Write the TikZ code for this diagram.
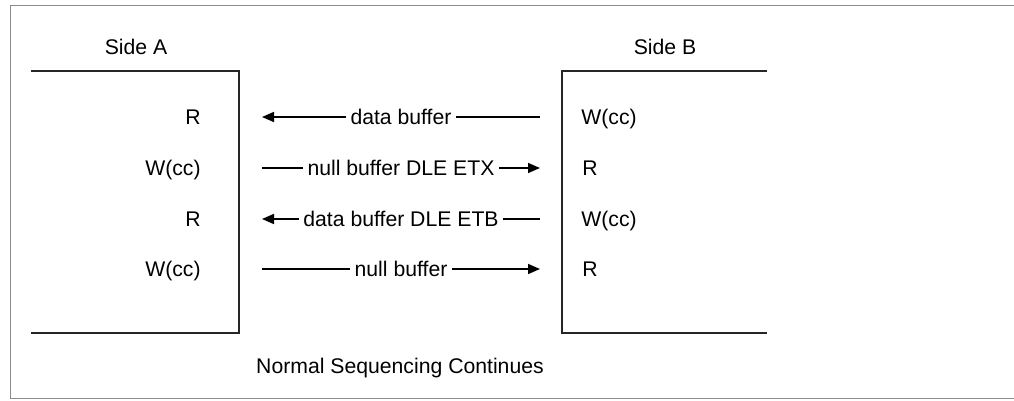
\documentclass[tikz,border=0pt]{standalone}
\usepackage{fontspec}
\setmainfont{Liberation Sans}
\usetikzlibrary{arrows.meta}

\begin{document}
\begin{tikzpicture}[
  x=0.5pt, y=-0.5pt,
  font=\fontsize{10.6}{12}\selectfont,
  frame/.style={draw=black!45, line width=0.5pt},
  side/.style={draw=black!85, line width=0.8pt},
  lbl/.style={inner sep=0pt, anchor=base},
  msg/.style={fill=white, inner sep=2.2pt},
  flow/.style={-{Triangle[length=6pt,width=5pt]}, line width=0.8pt}
]
\useasboundingbox (0,0) rectangle (1014,401);
\draw[frame] (1014,6) -- (10,6) -- (10,399) -- (1014,399);
\draw[side] (31,71) -- (239,71) -- (239,333) -- (31,333);
\draw[side] (767,71) -- (562,71) -- (562,333) -- (767,333);
\node[lbl] (sideA) at (136,55) {Side A};
\node[lbl] (sideB) at (665,55) {Side B};
% side A states
\node[lbl, anchor=base east] (a1) at (201,125) {R};
\node[lbl, anchor=base east] (a2) at (201,176) {W(cc)};
\node[lbl, anchor=base east] (a3) at (201,227) {R};
\node[lbl, anchor=base east] (a4) at (201,277) {W(cc)};
% side B states
\node[lbl, anchor=base west] (b1) at (581,125) {W(cc)};
\node[lbl, anchor=base west] (b2) at (582,176) {R};
\node[lbl, anchor=base west] (b3) at (581,227) {W(cc)};
\node[lbl, anchor=base west] (b4) at (582,277) {R};
% message ends
\coordinate (l1) at (262,117); \coordinate (r1) at (540,117);
\coordinate (l2) at (262,168); \coordinate (r2) at (540,168);
\coordinate (l3) at (262,219); \coordinate (r3) at (540,219);
\coordinate (l4) at (262,269); \coordinate (r4) at (540,269);
\draw[flow] (r1) -- node[msg] {data buffer} (l1);
\draw[flow] (l2) -- node[msg] {null buffer DLE ETX} (r2);
\draw[flow] (r3) -- node[msg] {data buffer DLE ETB} (l3);
\draw[flow] (l4) -- node[msg] {null buffer} (r4);
\node[lbl] (cont) at (400,373) {Normal Sequencing Continues};
\end{tikzpicture}
\end{document}
